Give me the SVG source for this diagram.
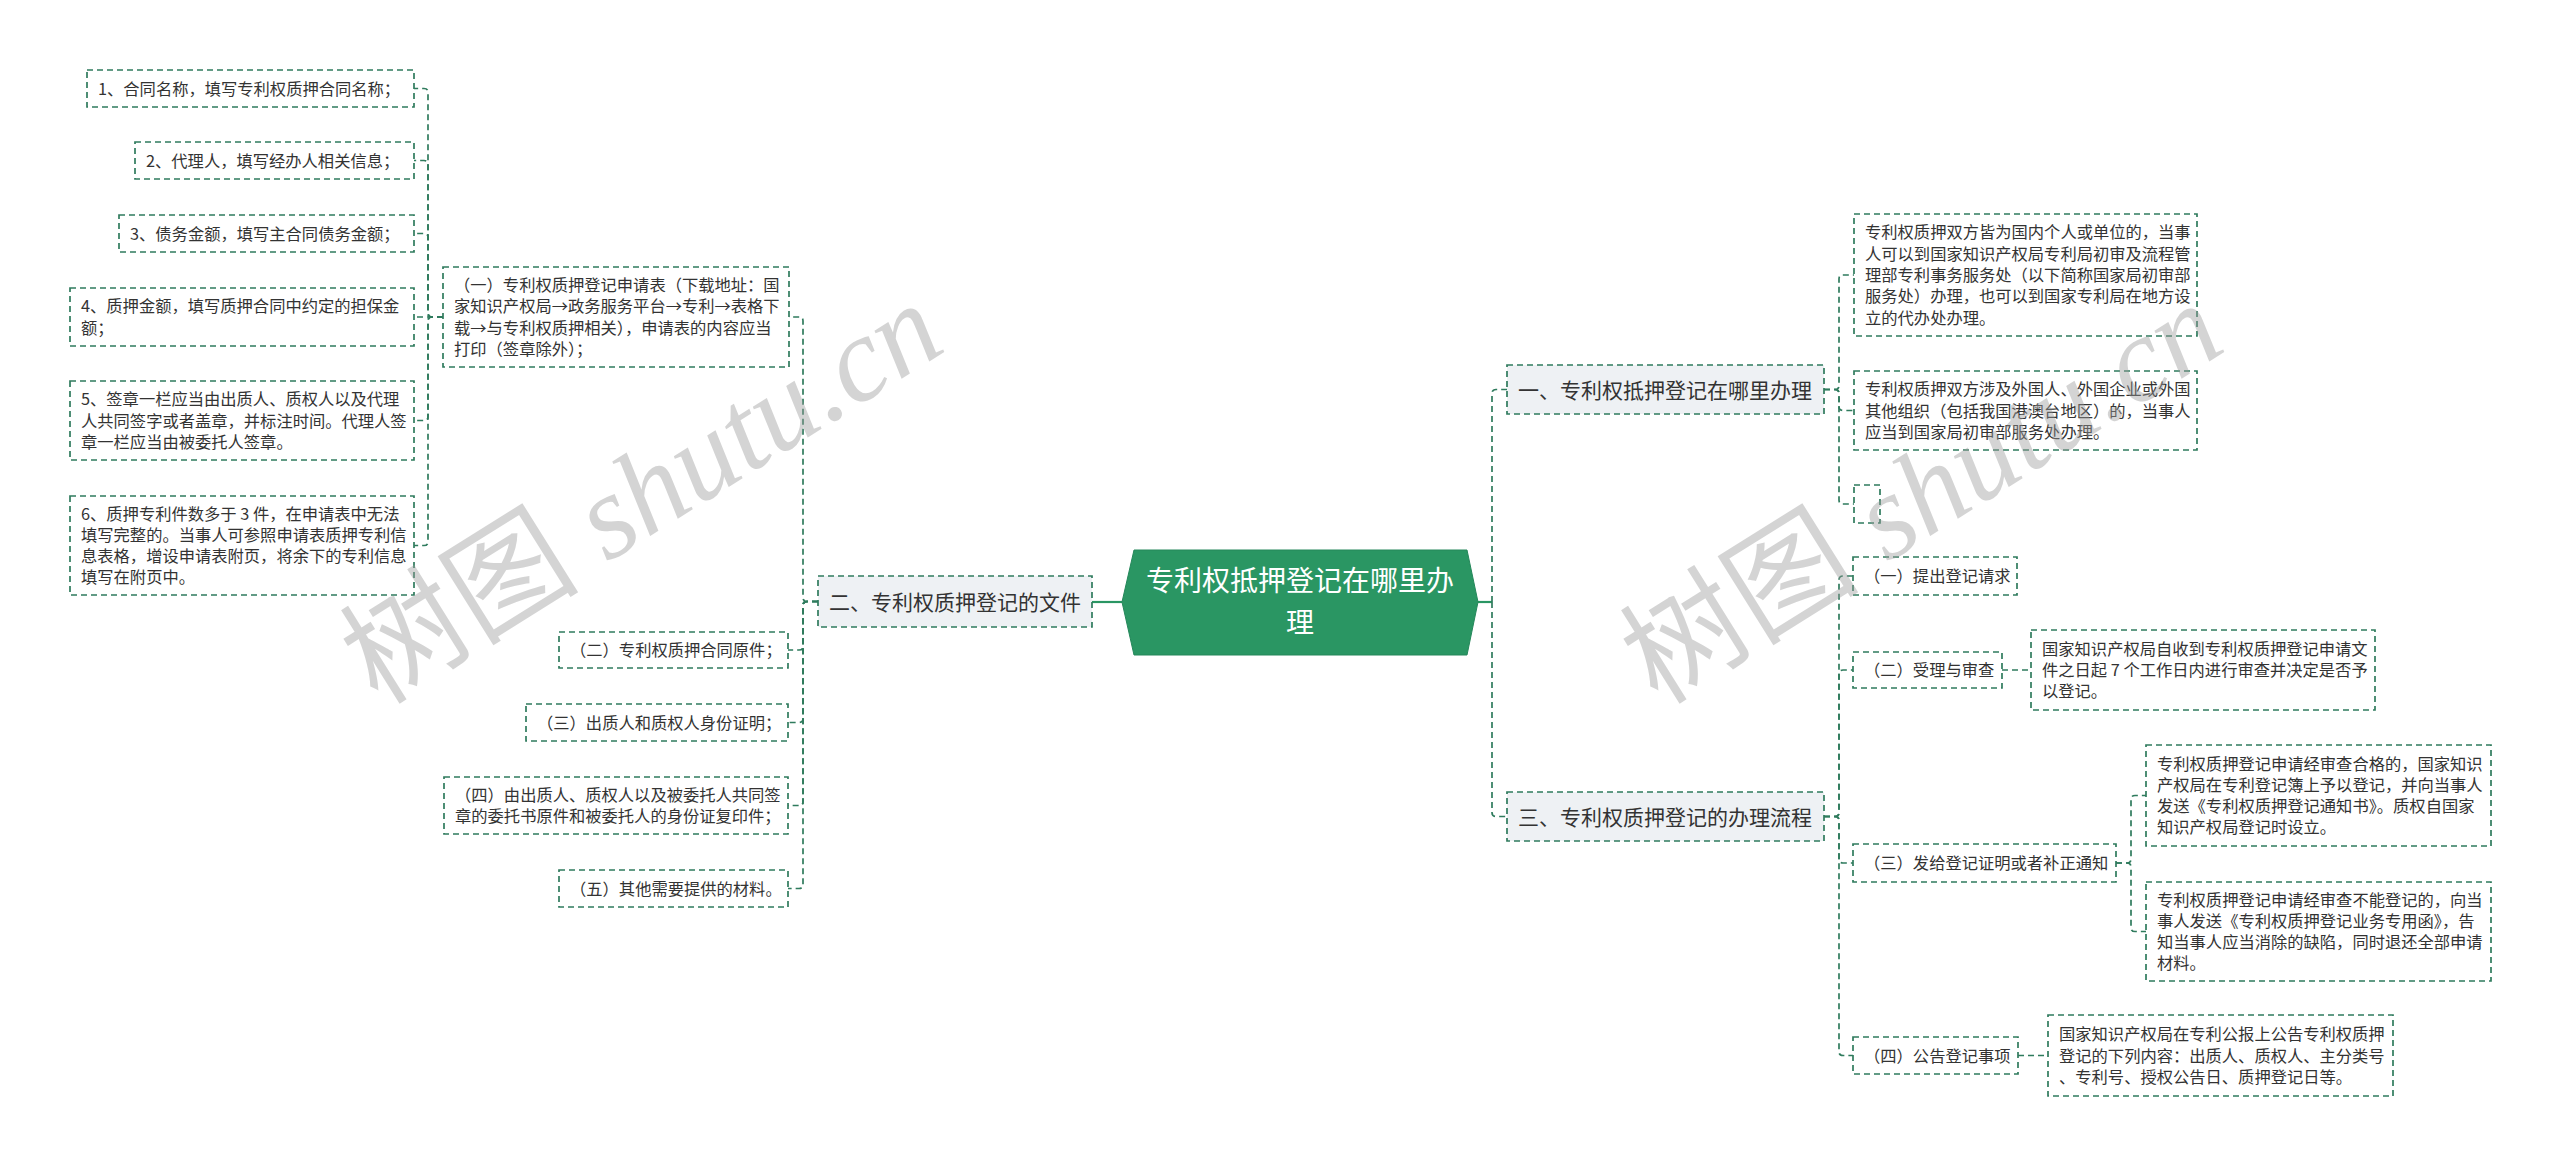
<svg xmlns="http://www.w3.org/2000/svg" width="2560" height="1166" viewBox="0 0 2560 1166">
<style>
.box{fill:#ffffff;stroke:#2f7b5d;stroke-width:1.7;stroke-dasharray:6 4}
.br{fill:#eef1f4;stroke:#2f7b5d;stroke-width:1.7;stroke-dasharray:6 4}
.t{font-family:"Noto Sans CJK SC","Noto Sans",sans-serif;font-size:16.3px;fill:#333333}
.bt{font-family:"Noto Sans CJK SC","Noto Sans",sans-serif;font-size:21px;fill:#333333}
.ct{font-family:"Noto Sans CJK SC","Noto Sans",sans-serif;font-size:28px;fill:#ffffff;text-anchor:middle}
.ln{fill:none;stroke:#2f7b5d;stroke-width:1.7;stroke-dasharray:6 4}
.sl{fill:none;stroke:#2a9663;stroke-width:2.2}
.wm{font-size:120px;fill:#9a9a9a;opacity:0.42}
</style>
<rect width="2560" height="1166" fill="#ffffff"/>
<g id="connectors">
<path class="sl" d="M1122 602 H1092"/>
<path class="sl" d="M1478 602 H1492"/>
<path class="ln" d="M1492 602 V393.5 Q1492 389.5 1496 389.5 H1507"/>
<path class="ln" d="M1492 602 V812.5 Q1492 816.5 1496 816.5 H1507"/>
<path class="ln" d="M818 601.5 H807 Q803 601.5 803 597.5 V321 Q803 317 799 317 H789"/>
<path class="ln" d="M818 601.5 H807 Q803 601.5 803 605.5 V646 Q803 650 799 650 H788"/>
<path class="ln" d="M818 601.5 H807 Q803 601.5 803 605.5 V718.5 Q803 722.5 799 722.5 H788"/>
<path class="ln" d="M818 601.5 H807 Q803 601.5 803 605.5 V801.5 Q803 805.5 799 805.5 H788"/>
<path class="ln" d="M818 601.5 H807 Q803 601.5 803 605.5 V884.5 Q803 888.5 799 888.5 H788"/>
<path class="ln" d="M443 317 H432 Q428 317 428 313 V92.5 Q428 88.5 424 88.5 H414"/>
<path class="ln" d="M443 317 H432 Q428 317 428 313 V164.5 Q428 160.5 424 160.5 H414"/>
<path class="ln" d="M443 317 H432 Q428 317 428 313 V237.5 Q428 233.5 424 233.5 H414"/>
<path class="ln" d="M443 317 H414"/>
<path class="ln" d="M443 317 H432 Q428 317 428 321 V416.5 Q428 420.5 424 420.5 H414"/>
<path class="ln" d="M443 317 H432 Q428 317 428 321 V541.5 Q428 545.5 424 545.5 H414"/>
<path class="ln" d="M1824 389.5 H1835 Q1839 389.5 1839 385.5 V279 Q1839 275 1843 275 H1854"/>
<path class="ln" d="M1824 389.5 H1835 Q1839 389.5 1839 393.5 V406.5 Q1839 410.5 1843 410.5 H1854"/>
<path class="ln" d="M1824 389.5 H1835 Q1839 389.5 1839 393.5 V500 Q1839 504 1843 504 H1854"/>
<path class="ln" d="M1824 816.5 H1835 Q1839 816.5 1839 812.5 V580 Q1839 576 1843 576 H1853"/>
<path class="ln" d="M1824 816.5 H1835 Q1839 816.5 1839 812.5 V674 Q1839 670 1843 670 H1853"/>
<path class="ln" d="M1824 816.5 H1835 Q1839 816.5 1839 820.5 V859 Q1839 863 1843 863 H1853"/>
<path class="ln" d="M1824 816.5 H1835 Q1839 816.5 1839 820.5 V1051.5 Q1839 1055.5 1843 1055.5 H1853"/>
<path class="ln" d="M2002 670 H2031"/>
<path class="ln" d="M2116 863 H2127 Q2131 863 2131 859 V799.5 Q2131 795.5 2135 795.5 H2146"/>
<path class="ln" d="M2116 863 H2127 Q2131 863 2131 867 V927.5 Q2131 931.5 2135 931.5 H2146"/>
<path class="ln" d="M2018 1055.5 H2048"/>
</g>
<g id="center">
<polygon points="1134,550 1467,550 1478,602 1467,655 1134,655 1122,602" fill="#2a9663" stroke="#24875a" stroke-width="1"/>
<text class="ct" x="1300" y="591">专利权抵押登记在哪里办</text>
<text class="ct" x="1300" y="633">理</text>
</g>
<g id="b2">
<rect class="br" x="818" y="576" width="274" height="51"/>
<text class="bt" x="829" y="609.5">二、专利权质押登记的文件</text>
</g>
<g id="b2-1">
<rect class="box" x="443" y="267" width="346" height="100"/>
<text class="t" x="454" y="291"><tspan x="454">（一）专利权质押登记申请表（下载地址：国</tspan><tspan x="454" dy="21.3">家知识产权局→政务服务平台→专利→表格下</tspan><tspan x="454" dy="21.3">载→与专利权质押相关），申请表的内容应当</tspan><tspan x="454" dy="21.3">打印（签章除外）；</tspan></text>
</g>
<g id="l1">
<rect class="box" x="87" y="70" width="327" height="37"/>
<text class="t" x="98" y="94.5">1、合同名称，填写专利权质押合同名称；</text>
</g>
<g id="l2">
<rect class="box" x="135" y="142" width="279" height="37"/>
<text class="t" x="146" y="166.5">2、代理人，填写经办人相关信息；</text>
</g>
<g id="l3">
<rect class="box" x="119" y="215" width="295" height="37"/>
<text class="t" x="130" y="239.5">3、债务金额，填写主合同债务金额；</text>
</g>
<g id="l4">
<rect class="box" x="70" y="288" width="344" height="58"/>
<text class="t" x="81" y="312.3"><tspan x="81">4、质押金额，填写质押合同中约定的担保金</tspan><tspan x="81" dy="21.3">额；</tspan></text>
</g>
<g id="l5">
<rect class="box" x="70" y="381" width="344" height="79"/>
<text class="t" x="81" y="405.2"><tspan x="81">5、签章一栏应当由出质人、质权人以及代理</tspan><tspan x="81" dy="21.3">人共同签字或者盖章，并标注时间。代理人签</tspan><tspan x="81" dy="21.3">章一栏应当由被委托人签章。</tspan></text>
</g>
<g id="l6">
<rect class="box" x="70" y="496" width="344" height="99"/>
<text class="t" x="81" y="519.5"><tspan x="81">6、质押专利件数多于 3 件，在申请表中无法</tspan><tspan x="81" dy="21.3">填写完整的。当事人可参照申请表质押专利信</tspan><tspan x="81" dy="21.3">息表格，增设申请表附页，将余下的专利信息</tspan><tspan x="81" dy="21.3">填写在附页中。</tspan></text>
</g>
<g id="b2-2">
<rect class="box" x="559" y="632" width="229" height="36"/>
<text class="t" x="570" y="656">（二）专利权质押合同原件；</text>
</g>
<g id="b2-3">
<rect class="box" x="526" y="704" width="262" height="37"/>
<text class="t" x="537" y="728.5">（三）出质人和质权人身份证明；</text>
</g>
<g id="b2-4">
<rect class="box" x="444" y="777" width="344" height="57"/>
<text class="t" x="455" y="800.8"><tspan x="455">（四）由出质人、质权人以及被委托人共同签</tspan><tspan x="455" dy="21.3">章的委托书原件和被委托人的身份证复印件；</tspan></text>
</g>
<g id="b2-5">
<rect class="box" x="559" y="870" width="229" height="37"/>
<text class="t" x="570" y="894.5">（五）其他需要提供的材料。</text>
</g>
<g id="b1">
<rect class="br" x="1507" y="365" width="317" height="49"/>
<text class="bt" x="1518" y="397.5">一、专利权抵押登记在哪里办理</text>
</g>
<g id="b1-1">
<rect class="box" x="1854" y="214" width="343" height="122"/>
<text class="t" x="1865" y="238.4"><tspan x="1865">专利权质押双方皆为国内个人或单位的，当事</tspan><tspan x="1865" dy="21.3">人可以到国家知识产权局专利局初审及流程管</tspan><tspan x="1865" dy="21.3">理部专利事务服务处（以下简称国家局初审部</tspan><tspan x="1865" dy="21.3">服务处）办理，也可以到国家专利局在地方设</tspan><tspan x="1865" dy="21.3">立的代办处办理。</tspan></text>
</g>
<g id="b1-2">
<rect class="box" x="1854" y="371" width="343" height="79"/>
<text class="t" x="1865" y="395.2"><tspan x="1865">专利权质押双方涉及外国人、外国企业或外国</tspan><tspan x="1865" dy="21.3">其他组织（包括我国港澳台地区）的，当事人</tspan><tspan x="1865" dy="21.3">应当到国家局初审部服务处办理。</tspan></text>
</g>
<g id="b1-3">
<rect class="box" x="1854" y="485" width="26" height="38"/>
</g>
<g id="b3">
<rect class="br" x="1507" y="792" width="317" height="49"/>
<text class="bt" x="1518" y="824.5">三、专利权质押登记的办理流程</text>
</g>
<g id="b3-1">
<rect class="box" x="1853" y="557" width="164" height="38"/>
<text class="t" x="1864" y="582">（一）提出登记请求</text>
</g>
<g id="b3-2">
<rect class="box" x="1853" y="652" width="149" height="36"/>
<text class="t" x="1864" y="676">（二）受理与审查</text>
</g>
<g id="b3-2-1">
<rect class="box" x="2031" y="630" width="344" height="80"/>
<text class="t" x="2042" y="654.7"><tspan x="2042">国家知识产权局自收到专利权质押登记申请文</tspan><tspan x="2042" dy="21.3">件之日起 7 个工作日内进行审查并决定是否予</tspan><tspan x="2042" dy="21.3">以登记。</tspan></text>
</g>
<g id="b3-3">
<rect class="box" x="1853" y="844" width="263" height="38"/>
<text class="t" x="1864" y="869">（三）发给登记证明或者补正通知</text>
</g>
<g id="b3-3-1">
<rect class="box" x="2146" y="745" width="345" height="101"/>
<text class="t" x="2157" y="769.5"><tspan x="2157">专利权质押登记申请经审查合格的，国家知识</tspan><tspan x="2157" dy="21.3">产权局在专利登记簿上予以登记，并向当事人</tspan><tspan x="2157" dy="21.3">发送《专利权质押登记通知书》。质权自国家</tspan><tspan x="2157" dy="21.3">知识产权局登记时设立。</tspan></text>
</g>
<g id="b3-3-2">
<rect class="box" x="2146" y="882" width="345" height="99"/>
<text class="t" x="2157" y="905.5"><tspan x="2157">专利权质押登记申请经审查不能登记的，向当</tspan><tspan x="2157" dy="21.3">事人发送《专利权质押登记业务专用函》，告</tspan><tspan x="2157" dy="21.3">知当事人应当消除的缺陷，同时退还全部申请</tspan><tspan x="2157" dy="21.3">材料。</tspan></text>
</g>
<g id="b3-4">
<rect class="box" x="1853" y="1037" width="165" height="37"/>
<text class="t" x="1864" y="1061.5">（四）公告登记事项</text>
</g>
<g id="b3-4-1">
<rect class="box" x="2048" y="1015" width="345" height="81"/>
<text class="t" x="2059" y="1040.2"><tspan x="2059">国家知识产权局在专利公报上公告专利权质押</tspan><tspan x="2059" dy="21.3">登记的下列内容：出质人、质权人、主分类号</tspan><tspan x="2059" dy="21.3">、专利号、授权公告日、质押登记日等。</tspan></text>
</g>
<g id="watermark">
<text class="wm" transform="translate(378,706) rotate(-32)"><tspan font-family="Noto Sans CJK SC, sans-serif">树图</tspan><tspan font-family="Liberation Serif, serif" font-style="italic"> shutu.cn</tspan></text>
<text class="wm" transform="translate(1658,706) rotate(-32)"><tspan font-family="Noto Sans CJK SC, sans-serif">树图</tspan><tspan font-family="Liberation Serif, serif" font-style="italic"> shutu.cn</tspan></text>
</g>
</svg>
